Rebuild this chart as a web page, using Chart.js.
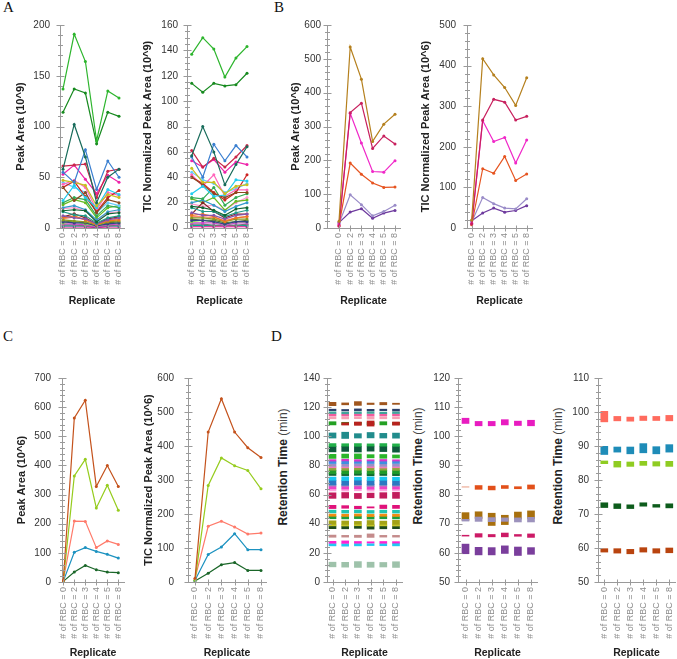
<!DOCTYPE html>
<html><head><meta charset="utf-8">
<script src="https://cdn.jsdelivr.net/npm/chart.js@4.4.1/dist/chart.umd.min.js"></script>
<style>
html,body{margin:0;padding:0;width:677px;height:659px;overflow:hidden;background:#fff;position:relative}
canvas{position:absolute}
.lbl{position:absolute;font-family:'Liberation Serif','Times New Roman',serif;font-size:15px;line-height:15px;color:#111}
.yt{position:absolute;font-family:'Liberation Sans',Arial,sans-serif;font-size:12px;color:#222;white-space:nowrap;transform:translate(-50%,-50%) rotate(-90deg)}
.yt span{font-weight:normal;color:#444}
</style></head><body>
<div class="lbl" style="left:3px;top:0px">A</div>
<div class="lbl" style="left:274px;top:0px">B</div>
<div class="lbl" style="left:3px;top:329px">C</div>
<div class="lbl" style="left:271px;top:329px">D</div>
<div class="yt" style="left:283px;top:467px"><b>Retention Time</b> <span>(min)</span></div>
<div class="yt" style="left:418px;top:466px"><b>Retention Time</b> <span>(min)</span></div>
<div class="yt" style="left:558px;top:466px"><b>Retention Time</b> <span>(min)</span></div>
<script>
const FONT = "'Liberation Sans', Arial, Helvetica, sans-serif";
const categories = ['# of RBC = 0','# of RBC = 2','# of RBC = 3','# of RBC = 4','# of RBC = 5','# of RBC = 8'];

// ---------- Panel A (10^9) ----------
const aColors = ['#2db52d','#178a1f','#176b5a','#3a7fd0','#c8284a','#ee22aa','#c8c020','#22ccee','#8a4a20','#cc2222',
  '#ff66bb','#66ccff','#33aa55','#116633','#229988','#8855aa','#ee7722','#889922','#334488','#88dd44',
  '#ff8877','#cc44cc','#777777','#882222','#3399cc','#66bb22','#ff99cc','#556b2f','#00aa99','#dd0088'];
const a1Values = [
  [137,191,164,86,135,128],[114,137,133,83,114,110],[58,102,70,25,50,58],[55,45,77,38,66,50],[61,62,63,30,56,58],
  [53,62,48,34,52,45],[47,45,42,22,33,30],[27,42,30,20,38,33],[40,27,35,15,28,25],[40,46,31,16,30,37],
  [43,47,40,18,35,32],[45,40,35,15,25,22],[25,30,28,12,22,20],[17,18,17,6,14,15],[16,13,12,5,10,12],
  [12,10,9,4,8,10],[10,12,8,3,7,8],[8,7,6,3,6,7],[6,5,5,2,4,5],[5,6,4,2,4,5],
  [9,11,8,3,7,9],[4,4,3,1,3,4],[3,3,2,1,2,3],[11,14,10,4,9,11],[20,22,18,8,16,18],
  [23,28,25,10,20,22],[19,20,17,7,15,16],[7,6,5,2,5,6],[2,2,2,1,2,2],[1,1,1,0.5,1,1]];
const a2Values = [
  [137,150,141,119,134,143],[114,107,114,112,113,122],[57,80,60,34,50,64],[56,40,66,53,65,56],[61,48,55,48,56,65],
  [53,48,54,44,52,50],[47,36,36,27,33,34],[27,33,25,26,38,37],[40,34,27,24,28,28],[40,35,28,22,28,42],
  [42,33,42,25,30,30],[44,38,35,28,31,35],[24,23,32,18,24,27],[17,16,14,10,15,16],[16,13,13,9,12,14],
  [12,10,10,7,10,11],[10,11,9,5,8,9],[8,8,7,5,7,7],[6,6,5,3,5,5],[5,6,5,3,5,5],
  [9,9,8,6,8,9],[4,4,4,2,4,4],[3,3,2,2,2,3],[11,20,13,8,11,11],[20,22,18,13,17,20],
  [23,20,24,14,21,22],[19,17,18,14,20,24],[7,6,6,4,5,6],[2,2,2,2,2,2],[1,1,1,1,1,1]];

// ---------- Panel B (10^6) ----------
const bColors = ['#b5801e','#c8205e','#f028c8','#e65420','#9a8cc8','#6e3a9e'];
const b1Values = [[20,535,440,256,307,336],[5,341,369,235,272,248],[10,339,251,167,165,199],
  [8,192,159,133,120,121],[13,98,69,36,49,67],[16,47,57,29,44,52]];
const b2Values = [[20,417,377,346,302,370],[10,266,317,310,266,275],[12,264,213,223,160,217],
  [8,146,135,176,117,133],[15,75,60,49,47,72],[18,37,49,39,43,55]];

// ---------- Panel C (10^6) ----------
const cColors = ['#c4521c','#96cc1e','#ff7a6a','#1c92c0','#1a6628'];
const c1Values = [[5,563,624,328,400,328],[3,364,421,254,332,246],[6,209,208,118,141,129],
  [3,102,118,105,95,82],[2,34,57,42,34,32]];
const c2Values = [[10,441,539,441,395,366],[5,284,365,342,328,274],[10,164,179,162,141,144],
  [5,81,103,142,95,95],[3,26,51,57,34,34]];

// ---------- Panel D (retention time ranges, min) ----------
const d1Colors = ['#a0561e','#2b3f6b','#3fa39a','#f25c9e','#f7a1b5','#b8221e','#23a023','#218c8c','#22b04a','#0e5a3c',
  '#2bb52b','#d634c8','#3e8fe0','#9c8fc6','#f57ab8','#8fa63a','#1f9a2a','#0f6a2f','#19c6f0','#2b78c2',
  '#a090c0','#ee42c6','#ffa6de','#c21c5c','#e0127a','#22c4b0','#f28c12','#1e9e3c','#a3a316','#c6c628',
  '#1d4a1d','#c48b8b','#ff22d2','#22c8f2','#9ec2aa'];
const d1Ranges = [
  [[121,123.3],[121.6,122.9],[121.2,123.8],[121.8,122.8],[121.6,123.2],[121.9,122.7]],
  [[117.6,118.6],[117.4,118.4],[117.6,118.8],[117.5,118.5],[117.6,118.6],[117.4,118.6]],
  [[115.6,116.8],[115.4,116.6],[115.6,116.8],[115.7,116.9],[115.5,116.6],[115.6,116.8]],
  [[114,115.4],[113.9,115.2],[114.1,115.4],[113.8,115.3],[114,115.4],[114,115.3]],
  [[112,113.4],[111.9,113.3],[112.1,113.5],[111.8,113.2],[112,113.4],[112,113.3]],
  [null,[107.7,109.3],[107.5,109.8],[107,110.5],null,[107.6,109.8]],
  [[107.8,110],[108,109.6],[108.2,109.6],[108,109.4],[107.8,110],[108,109.6]],
  [[98.8,102.3],[98.5,102.8],[98.8,101.8],[98.9,102.6],[98.8,102],[98.7,102.2]],
  [[93,95],[93.2,94.9],[93.1,95],[93.3,94.8],[93.2,95],[93.1,94.8]],
  [[89.3,93.2],[89.6,93.2],[89.2,93.1],[89.8,93.3],[89.5,93.2],[89.1,93.1]],
  [[84.8,87.6],[85,87.8],[84.6,87.9],[85.2,87.4],[84.9,87.5],[85.1,87.2]],
  [[83,84],[83.1,84.2],[82.9,84],[83.1,83.9],[83,84.1],[83,83.9]],
  [[81.3,82.9],[81.2,83],[81.4,82.8],[81.3,83],[81.1,82.9],[81.4,82.9]],
  [[79.4,81],[79.3,81.1],[79.6,81.2],[79.5,80.9],[79.3,81],[79.4,81.2]],
  [[78.4,79.3],[78.3,79.2],[78.5,79.5],[78.4,79.4],[78.2,79.2],[78.4,79.3]],
  [[76.7,78.3],[76.6,78.2],[76.8,78.4],[76.5,78.3],[76.7,78.2],[76.6,78.3]],
  [[74.4,76.7],[74.3,76.6],[74.5,76.8],[74.2,76.5],[74.4,76.7],[74.3,76.6]],
  [[73.1,74.4],[73,74.3],[73.2,74.5],[72.9,74.2],[73.1,74.4],[73,74.3]],
  [[69.8,72],[69.6,72.2],[69.9,71.9],[69.7,72.1],[69.8,72],[69.6,71.9]],
  [[66.6,69.8],[66.4,69.6],[66.8,69.9],[66.5,69.7],[66.6,69.8],[66.4,69.6]],
  [[65.8,67.2],[65.7,67],[65.9,67.3],[65.6,67.1],[65.8,67.2],[65.7,67]],
  [[63.9,65.8],[63.8,65.7],[64,65.9],[63.7,65.6],[63.9,65.8],[63.8,65.7]],
  [[62.5,63.9],[62.4,63.8],[62.6,64],[62.3,63.7],[62.5,63.9],[62.4,63.8]],
  [[57.4,61.2],[57.6,61.4],[57.3,60.8],[57.8,61],[57.5,61.3],[57.4,61.5]],
  [[50.4,52.6],[50.6,52.4],[50.3,52],[50.8,51.6],[50.4,52.8],[50.5,52.6]],
  [[47.4,49.3],[47.3,49.2],[47.5,49.4],[47.2,49.1],[47.4,49.3],[47.3,49.2]],
  [[45.1,46.6],[45,46.5],[45.2,46.7],[44.9,46.4],[45.1,46.6],[45,46.5]],
  [[43.4,45.1],[43.3,45],[43.5,45.2],[43.2,44.9],[43.4,45.1],[43.3,45]],
  [[39.6,42],[39.5,41.9],[39.7,41.6],[39.4,42.2],[39.6,41.8],[39.5,42.3]],
  [[38.5,39.6],[38.4,39.5],[38.6,39.7],[38.3,39.4],[38.5,39.6],[38.4,39.5]],
  [[36.6,38.5],[36.5,38.4],[36.8,38.6],[36.3,39],[36.5,38.5],[36.6,38.4]],
  [[30.7,32.2],[30.8,32],[30.6,32.1],[30.6,33],[30.8,32],[30.8,32]],
  [[26.6,27.9],[26.5,28.2],[26.6,27.8],[26.8,27.6],[26.6,27.8],[26.7,27.7]],
  [[24.8,26.4],[24.6,26.3],[24.8,26.4],[25,26.3],[24.9,26.4],[24.8,26.6]],
  [[10.4,13.6],[10.2,13.5],[10,14],[10.1,13.6],[10.3,13.4],[10,13.9]]];
const d2Colors = ['#e81cc0','#f2c4b4','#e2501a','#9c92bc','#a8700e','#cc1a66','#7a3e9c'];
const d2Ranges = [
  [[104.4,106.2],[103.6,105.1],[103.6,105.1],[103.9,105.7],[103.7,105.2],[103.6,105.5]],
  [[82.45,82.8],null,null,null,null,null],
  [null,[81.8,83.1],[81.6,82.9],[82.1,83.1],[82.0,82.7],[81.9,83.3]],
  [[70.9,71.5],[70.8,72.3],[70.7,72.1],[70.8,72.0],[70.6,72.0],[70.6,72.2]],
  [[71.2,73.8],[71.8,74.1],[69.4,73.6],[69.7,72.9],[71.6,74.0],[71.8,74.4]],
  [[65.75,66.05],[65.4,66.6],[65.5,66.3],[65.5,66.8],[65.7,66.3],[65.3,66.5]],
  [[59.7,63.0],[59.3,61.9],[59.3,61.8],[59.8,62.4],[59.1,62.0],[59.5,61.8]]];
const d3Colors = ['#ff6b5e','#1e8cb8','#8fcc22','#0d5c1c','#b9440f'];
const d3Ranges = [
  [[97.1,100.2],[97.4,98.7],[97.3,98.5],[97.5,98.8],[97.5,98.7],[97.4,99.0]],
  [[87.5,89.9],[88.2,89.7],[87.7,89.7],[88.0,90.7],[87.7,89.8],[88.2,90.4]],
  [[84.8,85.6],[83.8,85.5],[84.0,85.3],[84.3,85.5],[84.1,85.4],[84.0,85.5]],
  [[71.9,73.3],[71.6,73.0],[71.6,72.7],[72.3,73.3],[72.0,72.8],[71.8,73.0]],
  [[58.8,59.8],[58.5,59.8],[58.3,59.6],[58.8,60.1],[58.5,59.8],[58.6,60.0]]];

// ---------- layout ----------
const L = {
  A1:{left:14,axisX:60,yTop:25,yBot:228,bottom:307,xEnd:124,padR:8,cat0:63,step:11.2,ymin:0,ymax:200,major:50,minor:10,gap:10},
  A2:{left:141,axisX:187,yTop:25,yBot:228,bottom:307,xEnd:252,padR:8,cat0:191.7,step:11.06,ymin:0,ymax:160,major:20,minor:5,gap:9},
  B1:{left:289,axisX:327,yTop:25,yBot:228,bottom:307,xEnd:400,padR:8,cat0:339,step:11.2,ymin:0,ymax:600,major:100,minor:20,gap:6},
  B2:{left:419,axisX:467,yTop:25,yBot:228,bottom:307,xEnd:532,padR:8,cat0:471.7,step:11,ymin:0,ymax:500,major:100,minor:20,gap:11},
  C1:{left:15,axisX:62,yTop:378,yBot:582,bottom:659,xEnd:124,padR:8,cat0:63.3,step:11,ymin:0,ymax:700,major:100,minor:20,gap:11},
  C2:{left:142,axisX:188,yTop:378,yBot:582,bottom:659,xEnd:266,padR:8,cat0:195,step:13.2,ymin:0,ymax:600,major:100,minor:20,gap:14},
  D1:{left:295,axisX:327,yTop:378,yBot:582,bottom:659,xEnd:402,padR:8,cat0:332.5,step:12.7,ymin:0,ymax:140,major:20,minor:4,gap:7},
  D2:{left:428,axisX:458,yTop:378,yBot:582,bottom:659,xEnd:537,padR:8,cat0:465.5,step:13.1,ymin:50,ymax:120,major:10,minor:2,gap:8},
  D3:{left:566,axisX:598,yTop:378,yBot:582,bottom:659,xEnd:675,padR:2,cat0:604.3,step:13,ymin:50,ymax:110,major:10,minor:2,gap:9}
};

const axisMarks = {
  id:'axisMarks',
  afterDatasetsDraw(chart, args, o){
    const ctx = chart.ctx, ys = chart.scales.y, xs = chart.scales.x;
    const ax = Math.round(chart.chartArea.left) + 0.5, ay = Math.round(chart.chartArea.bottom) + 0.5;
    ctx.save(); ctx.strokeStyle = '#9a9a9a'; ctx.lineWidth = 1; ctx.beginPath();
    const n = Math.round((ys.max - ys.min) / o.minor);
    for (let k = 0; k <= n; k++) {
      const v = ys.min + k * o.minor;
      const y = Math.round(ys.getPixelForValue(v)) + 0.5;
      const r = v / o.major; const maj = Math.abs(r - Math.round(r)) < 1e-6;
      const t = maj ? 4 : 2.5;
      ctx.moveTo(ax - t, y); ctx.lineTo(ax + t, y);
    }
    for (let i = 0; i < o.n; i++) {
      const x = Math.round(xs.getPixelForValue(i)) + 0.5;
      ctx.moveTo(x, ay - 3); ctx.lineTo(x, ay + 3);
    }
    ctx.stroke(); ctx.restore();
  }
};

function makeChart(g, type, datasets, yTitle){
  const c = document.createElement('canvas');
  const top = g.yTop - 8;
  const w = g.xEnd + g.padR - g.left, h = g.bottom - top;
  c.width = w; c.height = h;
  c.style.left = g.left + 'px'; c.style.top = top + 'px';
  c.style.width = w + 'px'; c.style.height = h + 'px';
  document.body.appendChild(c);
  const yw = g.axisX - g.left, xh = g.bottom - g.yBot;
  const xmin = -(g.cat0 - g.axisX) / g.step, xmax = xmin + (g.xEnd - g.axisX) / g.step;
  new Chart(c, {
    type, data:{datasets}, plugins:[axisMarks],
    options:{
      responsive:false, devicePixelRatio:1, animation:false,
      layout:{padding:{top:8,right:g.padR,bottom:0,left:0}},
      plugins:{legend:{display:false}, tooltip:{enabled:false},
        axisMarks:{major:g.major, minor:g.minor, n:categories.length}},
      scales:{
        x:{type:'linear', offset:false, min:xmin, max:xmax,
          grid:{display:false, drawTicks:false}, border:{display:true, color:'#9a9a9a', width:1},
          ticks:{stepSize:1, autoSkip:false, includeBounds:false, minRotation:90, maxRotation:90, padding:5,
            color:'#8c8c8c', font:{size:9, family:FONT},
            callback:(v)=> (Number.isInteger(v) && categories[v]) || ''},
          title:{display:true, text:'Replicate', padding:0, color:'#222', font:{size:10.5, weight:'bold', family:FONT}},
          afterFit:(s)=>{ s.height = xh; s.paddingLeft = 0; s.paddingRight = 0; }},
        y:{type:'linear', min:g.ymin, max:g.ymax,
          grid:{display:false, drawTicks:false}, border:{display:true, color:'#9a9a9a', width:1},
          ticks:{stepSize:g.major, autoSkip:false, padding:g.gap, color:'#333', font:{size:10, family:FONT}},
          title: yTitle ? {display:true, text:yTitle, padding:0, color:'#222', font:{size:11, weight:'bold', family:FONT}} : {display:false},
          afterFit:(s)=>{ s.width = yw; s.paddingTop = 0; s.paddingBottom = 0; }}
      }
    }
  });
}

function lineSets(values, colors){
  return values.map((vals, k) => ({
    data: vals.map((v, i) => ({x:i, y:v})),
    borderColor: colors[k], backgroundColor: colors[k],
    borderWidth: 1.2, pointRadius: 1.5, pointBorderWidth: 0, tension: 0
  }));
}
function barSets(ranges, colors){
  return ranges.map((rs, k) => ({
    data: rs.map((r, i) => r ? {x:i, y:r} : null).filter(Boolean),
    backgroundColor: colors[k], borderWidth: 0, grouped: false, barThickness: 7
  }));
}

Chart.defaults.font.family = FONT;
makeChart(L.A1, 'line', lineSets(a1Values, aColors), 'Peak Area (10^9)');
makeChart(L.A2, 'line', lineSets(a2Values, aColors), 'TIC Normalized Peak Area (10^9)');
makeChart(L.B1, 'line', lineSets(b1Values, bColors), 'Peak Area (10^6)');
makeChart(L.B2, 'line', lineSets(b2Values, bColors), 'TIC Normalized Peak Area (10^6)');
makeChart(L.C1, 'line', lineSets(c1Values, cColors), 'Peak Area (10^6)');
makeChart(L.C2, 'line', lineSets(c2Values, cColors), 'TIC Normalized Peak Area (10^6)');
makeChart(L.D1, 'bar', barSets(d1Ranges, d1Colors), null);
makeChart(L.D2, 'bar', barSets(d2Ranges, d2Colors), null);
makeChart(L.D3, 'bar', barSets(d3Ranges, d3Colors), null);
</script>
</body></html>
